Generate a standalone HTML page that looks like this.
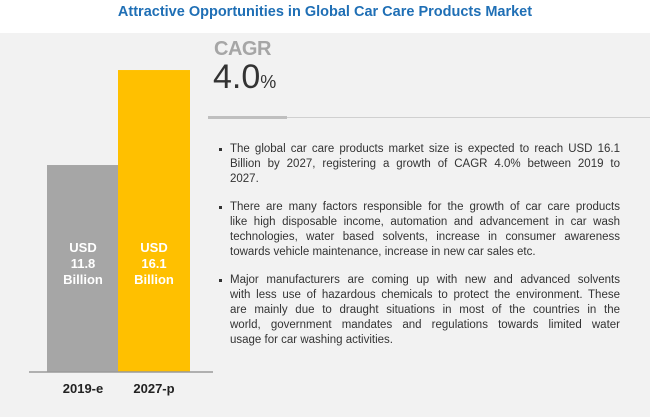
<!DOCTYPE html>
<html><head><meta charset="utf-8"><style>
body{margin:0;width:650px;height:417px;overflow:hidden;background:#fff;font-family:"Liberation Sans",sans-serif;position:relative}
.title{position:absolute;top:4px;left:0;width:650px;text-align:center;color:#1f6fb5;font-weight:bold;font-size:14.5px}
.panel{position:absolute;top:33px;left:0;width:650px;height:384px;background:#f2f2f2}
.cagr{position:absolute;left:214px;top:38px;color:#a6a6a6;font-size:20px;font-weight:bold;letter-spacing:-0.5px}
.val{position:absolute;left:213px;top:58px;color:#333;font-size:34px}
.val small{font-size:18px}
.text{position:absolute;left:230px;top:142px;width:390px;font-size:11.5px;color:#333;line-height:15px}
.text p{margin:0 0 13px;position:relative}
.text p span{display:block;text-align:justify;text-align-last:justify;white-space:nowrap}
.text p span.l{text-align-last:left}
.text p:before{content:"";position:absolute;left:-11px;top:6px;width:3px;height:3px;background:#333}
</style></head><body>
<div class="title">Attractive Opportunities in Global Car Care Products Market</div>
<div class="panel"></div>
<svg id="c" width="650" height="417" style="position:absolute;left:0;top:0"></svg>
<div class="cagr">CAGR</div>
<div class="val">4.0<small>%</small></div>
<div style="position:absolute;left:208px;top:116px;width:79px;height:3px;background:#bfbfbf"></div>
<div style="position:absolute;left:287px;top:117px;width:363px;height:1px;background:#d0d0d0"></div>
<div class="text">
<p><span>The global car care products market size is expected to reach USD 16.1</span><span>Billion by 2027, registering a growth of CAGR 4.0% between 2019 to</span><span class="l">2027.</span></p>
<p><span>There are many factors responsible for the growth of car care products</span><span>like high disposable income, automation and advancement in car wash</span><span>technologies, water based solvents, increase in consumer awareness</span><span class="l">towards vehicle maintenance, increase in new car sales etc.</span></p>
<p><span>Major manufacturers are coming up with new and advanced solvents</span><span>with less use of hazardous chemicals to protect the environment. These</span><span>are mainly due to draught situations in most of the countries in the</span><span>world, government mandates and regulations towards limited water</span><span class="l">usage for car washing activities.</span></p>
</div>
<script>
const categories=["2019-e","2027-p"];
const values=[11.8,16.1];
const valueLabels=["11.8","16.1"];
const ns="http://www.w3.org/2000/svg",svg=document.getElementById('c');
const base=372,v0=2.43,k=22.09;
const y=v=>base-(v-v0)*k;
const colors=["#a6a6a6","#ffc000"],xs=[47,118],w=72;
function mk(t,a){const e=document.createElementNS(ns,t);for(const n in a)e.setAttribute(n,a[n]);svg.appendChild(e);return e;}
values.forEach((v,i)=>{
 const r=mk('rect',{x:xs[i],y:y(v),width:w,height:base-y(v),fill:colors[i]});
 
 
 ["USD",valueLabels[i],"Billion"].forEach((s,j)=>{
  const t=mk('text',{x:xs[i]+w/2,y:252+j*16,'text-anchor':'middle',fill:'#fff','font-size':13,'font-weight':'bold','font-family':'Liberation Sans'});
  t.textContent=s;
  
  
 });
 const c=mk('text',{x:xs[i]+w/2,y:393,'text-anchor':'middle',fill:'#222','font-size':13,'font-weight':'bold','font-family':'Liberation Sans'});
 c.textContent=categories[i];
 
 
});
const l=mk('line',{x1:29,x2:213,y1:base,y2:base,stroke:'#999','stroke-width':1.5});


</script>
</body></html>
